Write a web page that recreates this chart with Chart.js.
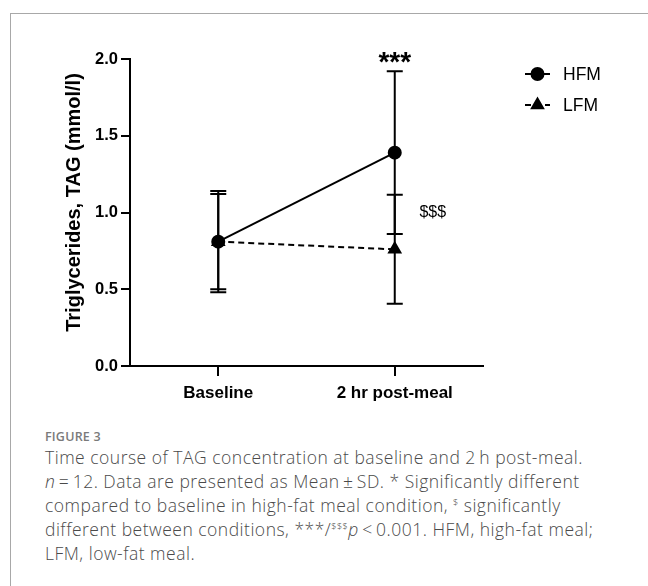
<!DOCTYPE html>
<html>
<head>
<meta charset="utf-8">
<script src="https://cdn.jsdelivr.net/npm/chart.js@4.4.1/dist/chart.umd.min.js"></script>
<style>
  html, body { margin: 0; padding: 0; background: #fff; }
  body { width: 648px; height: 586px; position: relative; overflow: hidden; }
  .frame { position: absolute; left: 10px; top: 13px; width: 700px; height: 700px;
           border-top: 1px solid #a8a8a8; border-left: 1px solid #a8a8a8; }
  #wrap { position: absolute; left: 0; top: 0; width: 648px; height: 420px; }
  .fig { position: absolute; left: 45px; top: 428px; font-family: "Open Sans", sans-serif;
         font-size: 12.5px; font-weight: 600; color: #7a7a7a; letter-spacing: 0.2px; }
  .cap { position: absolute; left: 45px; top: 445px; font-family: "Open Sans", sans-serif;
         font-weight: 300; font-size: 17.5px; line-height: 24px; letter-spacing: 0.5px;
         color: #4a4a4a; white-space: nowrap; }
  .cap sup { font-size: 9px; vertical-align: 6px; line-height: 0; }
</style>
</head>
<body>
<div class="frame"></div>
<div id="wrap"><canvas id="chart" width="648" height="420"></canvas></div>
<div class="fig">FIGURE 3</div>
<div class="cap">
Time course of TAG concentration at baseline and 2&#8201;h post-meal.<br>
<i>n</i>&#8201;=&#8201;12. Data are presented as Mean&#8201;±&#8201;SD. * Significantly different<br>
compared to baseline in high-fat meal condition, <sup>$</sup> significantly<br>
different between conditions, ***/<sup>$$$</sup><i>p</i>&#8201;&lt;&#8201;0.001. HFM, high-fat meal;<br>
LFM, low-fat meal.
</div>
<script>
// data
const categories = ['Baseline', '2 hr post-meal'];
const hfmMean = [0.81, 1.39];
const hfmSD = [0.33, 0.53];
const lfmMean = [0.81, 0.76];
const lfmSD = [0.31, 0.355];
const yTicks = [0, 0.5, 1.0, 1.5, 2.0];
const yTitle = 'Triglycerides, TAG (mmol/l)';

const FONT = '"Liberation Sans", Arial, sans-serif';
const sdList = [hfmSD, lfmSD];

// error bars drawn from the SD arrays
const errorBars = {
  id: 'errorBars',
  afterDatasetsDraw(chart) {
    const ctx = chart.ctx;
    const xs = chart.scales.x, ys = chart.scales.y;
    ctx.save();
    ctx.strokeStyle = '#000';
    ctx.lineWidth = 2;
    chart.data.datasets.forEach(function (ds, d) {
      ds.data.forEach(function (v, i) {
        const x = xs.getPixelForValue(i);
        const top = ys.getPixelForValue(v + sdList[d][i]);
        const bot = ys.getPixelForValue(v - sdList[d][i]);
        ctx.beginPath();
        ctx.moveTo(x, top); ctx.lineTo(x, bot);
        ctx.moveTo(x - 8, top); ctx.lineTo(x + 8, top);
        ctx.moveTo(x - 8, bot); ctx.lineTo(x + 8, bot);
        ctx.stroke();
      });
    });
    ctx.restore();
  }
};

// significance marks + y title (title sits a bit above centre in the original)
const sigMarks = {
  id: 'sigMarks',
  afterDraw(chart) {
    const ctx = chart.ctx;
    const xs = chart.scales.x, ys = chart.scales.y;
    const x = xs.getPixelForValue(1);
    ctx.save();
    ctx.fillStyle = '#000';
    ctx.textAlign = 'center';
    ctx.textBaseline = 'middle';
    ctx.font = 'bold 28px ' + FONT;
    ctx.fillText('***', x, ys.getPixelForValue(hfmMean[1] + hfmSD[1]) - 8);
    ctx.font = '16px ' + FONT;
    ctx.fillText('$$$', x + 38, ys.getPixelForValue(1.0));
    // y axis title
    const area = chart.chartArea;
    ctx.translate(ys.left + 11, (area.top + area.bottom) / 2 - 10);
    ctx.rotate(-Math.PI / 2);
    ctx.font = 'bold 20px ' + FONT;
    ctx.fillText(yTitle, 0, 0);
    ctx.restore();
  }
};

// legend with line + marker, like the original
const lineLegend = {
  id: 'lineLegend',
  afterDraw(chart) {
    const ctx = chart.ctx;
    const x0 = chart.chartArea.right + 42;
    ctx.save();
    chart.data.datasets.forEach(function (ds, i) {
      const y = 74 + i * 31;
      ctx.strokeStyle = '#000';
      ctx.lineWidth = 2;
      ctx.setLineDash(ds.borderDash || []);
      ctx.beginPath();
      ctx.moveTo(x0, y); ctx.lineTo(x0 + 25, y);
      ctx.stroke();
      ctx.setLineDash([]);
      Chart.helpers.drawPoint(ctx, { pointStyle: ds.pointStyle, radius: ds.pointRadius, borderWidth: 1 }, x0 + 12.5, y);
      ctx.fillStyle = '#000';
      ctx.font = '17.5px ' + FONT;
      ctx.textAlign = 'left';
      ctx.textBaseline = 'middle';
      ctx.fillText(ds.label, x0 + 38, y + 1);
    });
    ctx.restore();
  }
};

new Chart(document.getElementById('chart'), {
  type: 'line',
  data: {
    labels: categories,
    datasets: [
      {
        label: 'HFM', data: hfmMean, borderColor: '#000', backgroundColor: '#000',
        borderWidth: 2, pointStyle: 'circle', pointRadius: 6, pointBackgroundColor: '#000', pointBorderColor: '#000'
      },
      {
        label: 'LFM', data: lfmMean, borderColor: '#000', backgroundColor: '#000',
        borderWidth: 2, borderDash: [6, 4], pointStyle: 'triangle', pointRadius: 6.5, pointBackgroundColor: '#000', pointBorderColor: '#000'
      }
    ]
  },
  options: {
    responsive: false,
    animation: false,
    layout: { padding: { left: 63, top: 59, right: 165, bottom: 0 } },
    plugins: { legend: { display: false }, tooltip: { enabled: false } },
    scales: {
      x: {
        offset: true,
        grid: { display: true, offset: false, drawOnChartArea: false, drawTicks: true, tickLength: 10, color: '#000', lineWidth: 2 },
        border: { display: true, color: '#000', width: 2 },
        ticks: { color: '#000', font: { family: FONT, size: 17, weight: 'bold' }, padding: 7, maxRotation: 0 },
        afterFit(scale) { scale.height = 54; }
      },
      y: {
        min: 0, max: 2.0,
        afterBuildTicks(scale) { scale.ticks = yTicks.map(v => ({ value: v })); },
        grid: { display: true, drawOnChartArea: false, drawTicks: true, tickLength: 9, color: '#000', lineWidth: 2 },
        border: { display: true, color: '#000', width: 2 },
        ticks: { color: '#000', font: { family: FONT, size: 16.5, weight: 'bold' }, padding: 3,
                 callback: v => v.toFixed(1) },
        afterFit(scale) { scale.width = 67; }
      }
    }
  },
  plugins: [errorBars, sigMarks, lineLegend]
});
</script>
</body>
</html>
